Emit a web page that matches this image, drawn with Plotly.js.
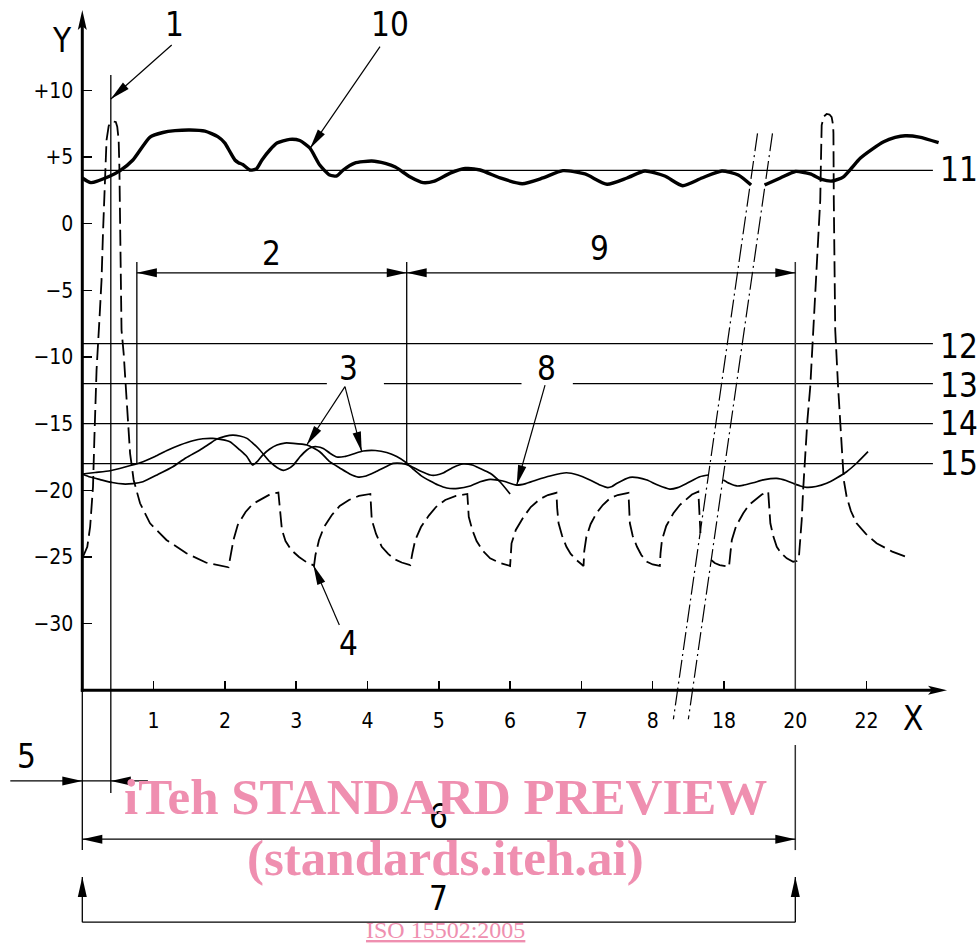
<!DOCTYPE html>
<html><head><meta charset="utf-8">
<script src="https://cdn.plot.ly/plotly-3.0.1.min.js"></script>
<style>html,body{margin:0;padding:0;background:#fff}</style>
</head><body><div id="chart" style="width:980px;height:945px"></div>
<script>
// ---------------- DATA ----------------
const xTickPos  = [1,2,3,4,5,6,7,8,9,10,11];
const xTickText = ['1','2','3','4','5','6','7','8','18','20','22'];
const yTickVals = [10,5,0,-5,-10,-15,-20,-25,-30];
const yTickText = ['+10','+5','0','\u22125','\u221210','\u221215','\u221220','\u221225','\u221230'];

const refLevels = [4,-9,-12,-15,-18];
const refLabels = ['11','12','13','14','15'];

// curve 10 (thick solid)
const curve10X = [0.00,0.12,0.39,0.53,0.71,0.95,1.13,1.30,1.51,1.72,1.90,2.00,2.07,2.14,2.19,2.25,2.35,2.44,2.52,2.63,2.73,2.91,3.05,3.19,3.33,3.47,3.57,3.66,3.82,4.06,4.25,4.39,4.60,4.78,4.94,5.16,5.37,5.58,5.86,6.17,6.46,6.74,7.05,7.36,7.64,7.89,8.17,8.42,8.69,8.97,9.20,9.38,null,9.57,9.79,10.00,10.21,10.37,10.52,10.67,10.79,10.91,11.08,11.24,11.40,11.54,11.74,12.01];
const curve10Y = [3.43,3.08,3.58,3.98,4.78,6.50,6.84,6.98,7.03,6.95,6.53,6.05,5.40,4.78,4.58,4.44,4.03,4.10,4.78,5.53,6.05,6.33,6.24,5.68,4.40,3.65,3.58,4.03,4.55,4.70,4.52,4.25,3.50,3.08,3.20,3.80,4.14,4.03,3.43,3.00,3.43,3.98,3.73,2.96,3.43,3.95,3.58,2.85,3.43,3.95,3.65,2.90,null,2.90,3.43,3.92,3.73,3.32,3.20,3.50,4.18,4.91,5.60,6.15,6.47,6.60,6.50,6.08];

// curves 3 (thin solid) – second one continues as curve 8
const curve3aX = [0.00,0.18,0.39,0.60,0.81,1.02,1.18,1.37,1.55,1.69,1.83,1.96,2.07,2.21,2.31,2.39,2.46,2.53,2.63,2.73,2.84,2.96,3.15,3.33,3.47,3.61,3.75,3.87,3.98,4.11,4.25,4.36,4.48,4.60,4.74,4.88,4.97,5.06,5.20,5.34,5.47,5.58,5.72,5.86,6.00];
const curve3aY = [-18.77,-18.66,-18.53,-18.25,-17.93,-17.46,-17.03,-16.60,-16.28,-16.13,-16.10,-16.19,-16.35,-16.97,-17.48,-18.10,-17.80,-17.35,-16.90,-16.60,-16.45,-16.47,-16.60,-17.10,-17.85,-18.32,-18.77,-19.00,-18.92,-18.62,-18.25,-17.98,-17.98,-18.17,-18.55,-18.85,-18.85,-18.70,-18.28,-18.02,-18.10,-18.36,-18.72,-19.37,-20.27];
const curve3bX = [0.00,0.11,0.25,0.42,0.57,0.71,0.85,1.06,1.27,1.45,1.65,1.78,1.88,2.00,2.11,2.21,2.31,2.39,2.49,2.63,2.73,2.82,2.88,2.96,3.05,3.15,3.21,3.29,3.38,3.47,3.57,3.68,3.80,3.94,4.11,4.27,4.41,4.53,4.64,4.75,4.88,4.99,5.11,5.27,5.44,5.58,5.72,5.90,6.09,6.22,6.37,6.56,6.79,6.95,7.12,7.26,7.37,7.43,7.50,7.68,7.79,7.92,8.07,8.24,8.35,8.48,8.66,8.78,null,8.99,9.08,9.18,9.28,9.41,9.57,9.74,9.87,9.97,10.07,10.16,10.29,10.44,10.58,10.72,10.87,11.02];
const curve3bY = [-18.77,-19.00,-19.19,-19.41,-19.52,-19.49,-19.35,-18.81,-18.23,-17.57,-16.97,-16.52,-16.17,-15.95,-15.85,-15.92,-16.10,-16.45,-16.97,-17.85,-18.28,-18.50,-18.40,-18.10,-17.50,-16.97,-16.78,-16.73,-16.86,-17.20,-17.50,-17.46,-17.27,-17.05,-17.01,-17.16,-17.46,-17.87,-18.40,-18.89,-19.30,-19.60,-19.82,-19.85,-19.67,-19.35,-19.17,-19.30,-19.60,-19.49,-19.22,-18.92,-18.68,-18.85,-19.22,-19.60,-19.79,-19.71,-19.47,-19.02,-19.04,-19.22,-19.60,-19.90,-19.79,-19.47,-18.98,-18.85,null,-19.22,-19.49,-19.67,-19.60,-19.43,-19.19,-19.10,-19.26,-19.47,-19.67,-19.77,-19.71,-19.47,-19.07,-18.60,-17.91,-17.10];

// curve 4 (dashed)
const curve4X = [0.01,0.07,0.11,0.15,0.17,0.20,0.24,0.27,0.29,0.32,0.34,0.37,0.40,0.43,0.47,0.49,0.51,0.52,0.54,0.55,0.58,0.62,0.67,0.72,0.81,0.95,1.18,1.46,1.74,2.05,
 2.08,2.12,2.18,2.29,2.39,2.52,2.63,2.75, 2.78,2.80,2.85,2.93,3.04,3.14,3.25,
 3.27,3.32,3.39,3.50,3.61,3.74,3.88,4.04, 4.05,4.06,4.12,4.20,4.29,4.39,4.48,4.60,
 4.63,4.67,4.75,4.86,4.96,5.09,5.24,5.40, 5.41,5.42,5.47,5.53,5.62,5.72,5.86,6.00,
 6.01,6.02,6.08,6.19,6.29,6.42,6.53,6.65, 6.66,6.68,6.73,6.79,6.85,6.93,7.03,
 7.04,7.07,7.13,7.21,7.30,7.40,7.51,7.66, 7.67,7.68,7.72,7.78,7.84,7.92,8.00,8.10,
 8.11,8.13,8.19,8.29,8.38,8.48,8.55,8.64, 8.65,8.65,8.67,null, 8.82,8.87,8.94,9.07,
 9.09,9.11,9.17,9.27,9.35,9.46,9.53,9.62, 9.63,9.65,9.69,9.74,9.80,9.88,9.97,
 10.02,10.05,10.06,10.08,10.09,10.11,10.14,10.17,10.21,10.25,10.30,10.35,10.36,10.37,10.40,10.44,10.48,10.51,10.53,10.535,10.54,10.55,10.56,10.60,10.65,10.68,10.72,10.78,10.86,10.99,11.14,11.36,11.61];
const curve4Y = [-24.98,-24.23,-22.73,-19.73,-15.98,-10.97,-7.22,-4.22,-0.70,3.28,6.28,7.33,7.63,7.67,7.63,7.28,6.28,4.28,-1.97,-7.97,-9.72,-13.47,-17.22,-19.22,-20.97,-22.47,-23.72,-24.72,-25.43,-25.77,
 -24.85,-23.72,-22.60,-21.62,-21.02,-20.60,-20.31,-20.16, -21.98,-22.97,-23.80,-24.47,-25.00,-25.37,-25.64,
 -24.85,-23.72,-22.75,-21.85,-21.17,-20.72,-20.42,-20.27, -21.10,-22.22,-23.27,-24.23,-24.77,-25.19,-25.41,-25.60,
 -24.70,-23.72,-22.75,-21.89,-21.25,-20.72,-20.42,-20.27, -21.10,-21.98,-22.97,-23.80,-24.55,-25.10,-25.45,-25.67,
 -24.85,-23.97,-22.97,-21.98,-21.25,-20.65,-20.35,-20.18, -21.32,-22.47,-23.42,-24.23,-24.77,-25.22,-25.67,
 -24.55,-23.48,-22.52,-21.72,-21.10,-20.60,-20.35,-20.18, -21.32,-22.47,-23.42,-24.23,-24.85,-25.35,-25.56,-25.67,
 -24.70,-23.72,-22.67,-21.72,-21.10,-20.60,-20.31,-20.10, -21.10,-21.98,-23.20,null, -25.22,-25.45,-25.60,-25.73,
 -24.70,-23.72,-22.67,-21.72,-21.10,-20.60,-20.31,-20.10, -21.32,-22.47,-23.42,-24.23,-24.70,-25.10,-25.35,
 -25.30,-25.04,-24.47,-23.35,-22.22,-19.97,-17.22,-14.72,-12.22,-7.97,-3.22,1.78,4.78,7.40,8.04,8.23,8.19,8.00,7.40,6.78,1.78,-3.22,-7.97,-12.22,-17.22,-19.22,-20.48,-21.55,-22.47,-23.27,-23.97,-24.59,-25.10];

// axis-break marks (dash-dot)
const breakLeftX  = [9.47, 8.29];
const breakRightX = [9.68, 8.50];
const breakY      = [6.78, -37.17];

// ---------------- LAYOUT ----------------
const W = 980, H = 945;
const X0 = -1.1543, X1 = 12.5905;   // full canvas in x units
const Y0 = -54.10,  Y1 = 16.78;     // full canvas in y units
const SX = W/(X1-X0), SY = H/(Y1-Y0);
const AXIS_Y = -35, AXIS_X = 0;
const NARROW = '"Liberation Sans Narrow", "DejaVu Sans Condensed", "Arial Narrow", sans-serif';
const SERIF = '"Liberation Serif", "Times New Roman", serif';
const K = '#000';
const PINK = '#ef8fb0';

const shapes = [];
function seg(x0,y0,x1,y1,w,color,dash){
  shapes.push({type:'line',xref:'x',yref:'y',x0:x0,y0:y0,x1:x1,y1:y1,
    line:{color:color||K,width:w,dash:dash||'solid'}});
}
function head(tx,ty,fx,fy,L,Wd,notch){
  L = L||20; Wd = Wd||9; notch = notch||0;
  let dx=(tx-fx)*SX, dy=(ty-fy)*SY; const n=Math.hypot(dx,dy); dx/=n; dy/=n;
  const bx=-dx*L, by=-dy*L, nx=-dy*Wd/2, ny=dx*Wd/2;
  const pts=[[0,0],[bx+nx,by+ny]];
  if(notch) pts.push([-dx*(L-notch),-dy*(L-notch)]);
  pts.push([bx-nx,by-ny]);
  shapes.push({type:'path',xref:'x',yref:'y',fillcolor:K,line:{width:0},
    path:'M'+pts.map(p=>(tx+p[0]/SX).toFixed(4)+','+(ty+p[1]/SY).toFixed(4)).join('L')+'Z'});
}

// reference lines 11..15
const refEnd = 11.93;
const gaps13 = [[3.43,4.23],[6.16,6.88]];
refLevels.forEach((lv,i)=>{
  if(refLabels[i]==='13'){
    let s=0; gaps13.forEach(g=>{seg(s,lv,g[0],lv,1.3); s=g[1];}); seg(s,lv,refEnd,lv,1.3);
  } else seg(0,lv,refEnd,lv,1.3);
});

// extension lines
seg(0.40, 11.15, 0.40, -42.69, 1.3);
seg(0.765, -2.87, 0.765, -18, 1.3);
seg(4.55, -2.87, 4.55, -18, 1.3);
seg(10, -2.87, 10, AXIS_Y, 1.5, '#333');
seg(10, -39.1, 10, -46.98, 1.5, '#333');
seg(0, AXIS_Y, 0, -46.98, 1.3);

// dimension 2 / 9
seg(0.765,-3.68,10,-3.68,1.3);
head(0.765,-3.68,4.55,-3.68); head(4.55,-3.68,0.765,-3.68);
head(4.55,-3.68,10,-3.68);   head(10,-3.68,4.55,-3.68);
// dimension 5
seg(-1.01,-41.79,0.92,-41.79,1.3);
head(0,-41.79,-1.01,-41.79); head(0.40,-41.79,0.92,-41.79);
// dimension 6
seg(0,-46.16,10,-46.16,1.3);
head(0,-46.16,10,-46.16); head(10,-46.16,0,-46.16);
// dimension 7
seg(0,-49.0,0,-52.39,1.3); seg(0,-52.39,10,-52.39,1.3); seg(10,-52.39,10,-49.0,1.3);
head(0,-49.0,0,-52.39); head(10,-49.0,10,-52.39);

// leaders
const leaders = [
  [1.254,13.40,0.40,9.35],
  [4.175,13.28,3.194,5.65],
  [3.684,-12.22,3.147,-16.60],
  [3.684,-12.22,3.919,-17.10],
  [6.490,-12.10,6.093,-19.60],
  [3.605,-30.10,3.240,-25.60]
];
leaders.forEach(l=>{ seg(l[0],l[1],l[2],l[3],1.2); head(l[2],l[3],l[0],l[1],20,8.5); });

// axes lines with arrows
seg(-0.02,AXIS_Y,12.0,AXIS_Y,3);
head(12.128,AXIS_Y,0,AXIS_Y,19,9,4);
seg(AXIS_X,AXIS_Y-0.1,AXIS_X,15.2,3);
head(AXIS_X,16.03,AXIS_X,AXIS_Y,20,9,4);

// labels
const labelFont = {family:NARROW,size:33,color:K};
const labels = [
  ['Y',-0.29,13.73],['1',1.30,14.91],['10',4.32,14.91],['2',2.66,-2.22],['9',7.26,-1.85],
  ['3',3.73,-10.83],['8',6.51,-10.85],['4',3.74,-31.48],['X',11.65,-37.10],
  ['5',-0.78,-39.99],['6',4.99,-44.49],['7',4.99,-50.61]
];
const refLabelY = [4.03,-9.23,-12.10,-14.97,-17.97];
const annotations = labels.map(l=>({x:l[1],y:l[2],xref:'x',yref:'y',text:l[0],showarrow:false,font:labelFont,xanchor:'center',yanchor:'middle'}));
refLabels.forEach((t,i)=>annotations.push({x:12.30,y:refLabelY[i],xref:'x',yref:'y',text:t,showarrow:false,font:labelFont,xanchor:'center',yanchor:'middle'}));

// watermark
annotations.push({x:5.09,y:-43.0,xref:'x',yref:'y',text:'<b>iTeh STANDARD PREVIEW</b>',showarrow:false,font:{family:SERIF,size:51,color:PINK}});
annotations.push({x:5.09,y:-47.6,xref:'x',yref:'y',text:'<b>(standards.iteh.ai)</b>',showarrow:false,font:{family:SERIF,size:51,color:PINK}});
annotations.push({x:5.09,y:-53.0,xref:'x',yref:'y',text:'<u>ISO 15502:2005</u>',showarrow:false,font:{family:SERIF,size:24,color:PINK}});

const traces = [
  {x:breakLeftX,y:breakY,mode:'lines',line:{color:K,width:1.2,dash:'18px,4px,2px,4px'}},
  {x:breakRightX,y:breakY,mode:'lines',line:{color:K,width:1.2,dash:'18px,4px,2px,4px'}},
  {x:curve4X,y:curve4Y,mode:'lines',line:{color:K,width:1.8,dash:'16px,6px'},connectgaps:false},
  {x:curve3aX,y:curve3aY,mode:'lines',line:{color:K,width:1.7,shape:'spline',smoothing:0.6}},
  {x:curve3bX,y:curve3bY,mode:'lines',line:{color:K,width:1.7,shape:'spline',smoothing:0.6},connectgaps:false},
  {x:curve10X,y:curve10Y,mode:'lines',line:{color:K,width:3.4,shape:'spline',smoothing:0.6},connectgaps:false}
];

const tickFont = {family:NARROW,size:21,color:K};
const layout = {
  width:W,height:H,margin:{l:0,r:0,t:0,b:0,pad:0},
  paper_bgcolor:'#fff',plot_bgcolor:'#fff',showlegend:false,hovermode:false,
  xaxis:{range:[X0,X1],domain:[0,1],anchor:'free',position:(AXIS_Y-Y0)/(Y1-Y0),
    showgrid:false,zeroline:false,showline:false,tickmode:'array',tickvals:xTickPos,ticktext:xTickText,
    ticks:'inside',ticklen:9,tickwidth:1.5,tickcolor:K,tickfont:tickFont,ticklabelstandoff:16,fixedrange:true},
  yaxis:{range:[Y0,Y1],domain:[0,1],anchor:'free',position:(AXIS_X-X0)/(X1-X0),
    showgrid:false,zeroline:false,showline:false,tickmode:'array',tickvals:yTickVals,ticktext:yTickText,
    ticks:'inside',ticklen:9,tickwidth:1.5,tickcolor:K,tickfont:tickFont,ticklabelstandoff:9,fixedrange:true},
  shapes:shapes,annotations:annotations
};
Plotly.newPlot('chart',traces,layout,{staticPlot:true,displayModeBar:false});
</script></body></html>
